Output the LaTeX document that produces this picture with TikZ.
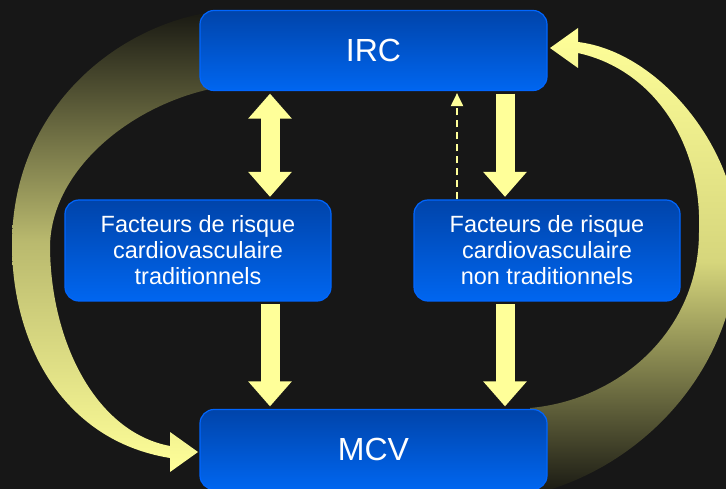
\documentclass[tikz,border=0pt]{standalone}
\usepackage{fontspec}
\setmainfont{Liberation Sans}
\usetikzlibrary{arrows.meta}
\definecolor{bgdark}{RGB}{23,23,23}
\definecolor{boxtop}{RGB}{0,68,170}
\definecolor{boxbot}{RGB}{0,102,240}
\definecolor{boxedge}{RGB}{0,102,255}
\definecolor{pale}{RGB}{255,255,153}
\definecolor{olive}{RGB}{185,185,110}
\definecolor{olivetop}{RGB}{214,214,124}
\definecolor{arcdark}{RGB}{24,24,18}
\tikzset{fathead/.tip={Triangle[width=42pt,length=25pt]},
         thinhead/.tip={Triangle[width=12pt,length=13pt]}}
\begin{document}
\begin{tikzpicture}[x=1pt,y=-1pt,
    box/.style={draw=boxedge,line width=1.2pt,rounded corners=14pt,top color=boxtop,bottom color=boxbot,text=white,align=center,inner sep=0pt},
    bigbox/.style={box,minimum width=347pt,minimum height=80pt,font=\fontsize{32}{36}\selectfont},
    riskbox/.style={box,minimum width=266pt,minimum height=101pt,font=\fontsize{23.5}{26}\selectfont},
    fat/.style={draw=pale,line width=19pt,shorten <=2.5pt,shorten >=2.5pt},
    hint/.style={draw=pale,line width=2pt,dash pattern=on 7pt off 5pt,shorten >=2pt}]
        \useasboundingbox (0,0) rectangle (726,489);
        \fill[bgdark] (0,0) rectangle (726,489);
        %% Curved arrows
        \shade[top color=arcdark,bottom color=pale,middle color=olive]
            (230,10) .. controls (130,16) and (12,100) .. (12,245)
            .. controls (12,340) and (60,440) .. (170,458)
            -- (170,472) -- (198,452) -- (170,432) -- (170,446)
            .. controls (95,432) and (50,340) .. (50,245)
            .. controls (52,170) and (130,105) .. (215,88) -- cycle;
        \shade[top color=pale,bottom color=arcdark,middle color=olivetop]
            (530,495) .. controls (640,470) and (738,370) .. (738,240)
            .. controls (738,150) and (660,52) .. (578,42)
            -- (578,28) -- (550,48) -- (578,68) -- (578,53)
            .. controls (655,70) and (702,145) .. (699,230)
            .. controls (700,330) and (620,400) .. (530,408) -- cycle;
        %% Boxes
        \node[bigbox] (irc) at (373.5,50.5) {IRC};
        \node[riskbox] (trad) at (198,250.5) {Facteurs de risque\\cardiovasculaire\\traditionnels};
        \node[riskbox] (nontrad) at (547,250.5) {Facteurs de risque\\cardiovasculaire\\non traditionnels};
        \node[bigbox] (mcv) at (373.5,449.5) {MCV};
        %% Block arrows
        \coordinate (lx) at (270,0);
        \coordinate (rx) at (505,0);
        \coordinate (dx) at (457,0);
        \draw[fat,fathead-fathead] (irc.south -| lx) -- (trad.north -| lx);
        \draw[fat,-fathead] (irc.south -| rx) -- (nontrad.north -| rx);
        \draw[fat,-fathead] (trad.south -| lx) -- (mcv.north -| lx);
        \draw[fat,-fathead] (nontrad.south -| rx) -- (mcv.north -| rx);
        \draw[hint,-thinhead] (nontrad.north -| dx) -- (irc.south -| dx);
    \end{tikzpicture}
\end{document}
